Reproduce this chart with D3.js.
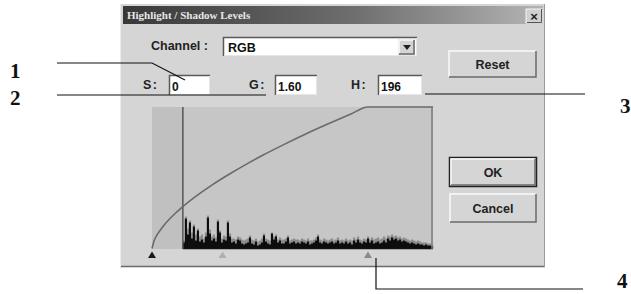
<!DOCTYPE html>
<html><head><meta charset="utf-8">
<script src="https://cdn.jsdelivr.net/npm/d3@7"></script>
<style>html,body{margin:0;padding:0;background:#fff;}svg{display:block;}</style>
</head><body>
<svg id="c" width="631" height="294"></svg>
<script>
// ---- data ----
const title = "Highlight / Shadow Levels";
const channel = "RGB";
const fieldLabels = ["S :", "G :", "H :"];
const fieldValues = ["0", "1.60", "196"];
const buttonLabels = ["Reset", "OK", "Cancel"];
const calloutLabels = ["1", "2", "3", "4"];
// tone curve: input level -> output (0..1)
const curveIn  = [0, 2, 5, 10, 15, 20, 28, 40, 55, 70, 85, 100, 120, 140, 160, 180, 196, 255];
const curveOut = [0, 0.057, 0.101, 0.156, 0.201, 0.240, 0.296, 0.370, 0.452, 0.525, 0.593, 0.657, 0.736, 0.811, 0.881, 0.948, 1, 1];
// histogram (starting at level 28), black counts
const histStart = 28;
const histBlack = [6,30,14,26,10,22,8,18,7,9,6,12,31,15,8,10,7,27,16,6,9,8,26,12,6,7,5,9,8,5,4,5,6,11,5,4,7,3,4,6,13,7,5,4,15,9,12,6,8,5,5,7,11,5,6,7,5,6,5,7,6,5,7,4,5,6,8,12,6,5,7,6,5,6,7,5,6,8,5,6,5,7,5,6,4,8,6,9,6,5,7,6,10,6,8,5,6,7,5,6,8,6,10,8,11,9,10,8,9,7,8,7,6,5,6,5,4,5,4,4,3,4,3,3,2];
// lighter (gray) counts behind the black ones
const histGray  = [8,32,20,28,16,24,14,20,12,14,10,16,33,19,12,14,11,29,18,10,13,12,28,15,10,10,9,12,11,9,8,9,10,13,9,8,10,7,8,10,15,10,9,8,16,12,14,9,11,9,9,10,13,8,9,10,9,9,8,10,9,8,10,8,8,9,11,14,9,8,10,9,8,9,10,8,9,11,8,9,8,10,8,9,8,11,9,12,9,8,10,9,12,9,11,9,10,11,9,10,12,10,13,12,14,12,13,11,12,10,11,10,9,8,9,8,7,8,7,6,6,6,5,5,4];
const markerLevels = [0, 64, 196];
const markerColors = ["#1a1a1a", "#b0b0b0", "#8a8a8a"];

// ---- drawing ----
const svg = d3.select("#c");
const sans = "'Liberation Sans', Arial, sans-serif";
const serif = "'Liberation Serif', 'Times New Roman', serif";

// dialog body
svg.append("rect").attr("x",120).attr("y",4).attr("width",425).attr("height",263).attr("fill","#d5d5d5");
svg.append("line").attr("x1",120).attr("x2",545).attr("y1",266.5).attr("y2",266.5).attr("stroke","#6a6a6a").attr("stroke-width",1.5);
svg.append("line").attr("x1",544.5).attr("x2",544.5).attr("y1",4).attr("y2",267).attr("stroke","#9a9a9a");
svg.append("line").attr("x1",120.5).attr("x2",120.5).attr("y1",4).attr("y2",267).attr("stroke","#ececec");

// title bar
const defs = svg.append("defs");
const g1 = defs.append("linearGradient").attr("id","tb");
g1.append("stop").attr("offset","0%").attr("stop-color","#383838");
g1.append("stop").attr("offset","55%").attr("stop-color","#6e6e6e");
g1.append("stop").attr("offset","100%").attr("stop-color","#b4b4b4");
svg.append("rect").attr("x",123).attr("y",6).attr("width",420).attr("height",18).attr("fill","url(#tb)");
svg.append("text").attr("x",127).attr("y",19).attr("font-family",serif).attr("font-size",11).attr("font-weight","bold")
  .attr("fill","#e8e8e8").text(title);
// close button
svg.append("rect").attr("x",526).attr("y",9).attr("width",16).attr("height",14).attr("fill","#d0d0d0").attr("stroke","#f4f4f4");
svg.append("path").attr("d","M527,22.5H541.5V9").attr("fill","none").attr("stroke","#555");
svg.append("text").attr("x",534).attr("y",20.5).attr("text-anchor","middle").attr("font-family",sans).attr("font-size",13).attr("font-weight","bold").attr("fill","#222").text("×");

// helper: sunken field
function sunken(x,y,w,h){
  svg.append("rect").attr("x",x).attr("y",y).attr("width",w).attr("height",h).attr("fill","#fff");
  svg.append("path").attr("d",`M${x+0.5},${y+h}V${y+0.5}H${x+w}`).attr("fill","none").attr("stroke","#5a5a5a").attr("stroke-width",1.5);
  svg.append("path").attr("d",`M${x+1},${y+h-0.5}H${x+w-0.5}V${y+1}`).attr("fill","none").attr("stroke","#e6e6e6");
}
function raised(x,y,w,h,label,def){
  svg.append("rect").attr("x",x).attr("y",y).attr("width",w).attr("height",h).attr("fill","#d5d5d5");
  if(def) svg.append("rect").attr("x",x-0.5).attr("y",y-0.5).attr("width",w+1).attr("height",h+1).attr("fill","none").attr("stroke","#222").attr("stroke-width",1.5);
  svg.append("path").attr("d",`M${x+1},${y+h-1}V${y+1}H${x+w-1}`).attr("fill","none").attr("stroke","#fafafa").attr("stroke-width",1.5);
  svg.append("path").attr("d",`M${x+1},${y+h-1}H${x+w-1}V${y+1}`).attr("fill","none").attr("stroke","#6a6a6a").attr("stroke-width",1.5);
  svg.append("text").attr("x",x+w/2).attr("y",y+h/2+4.5).attr("text-anchor","middle").attr("font-family",sans)
    .attr("font-size",12.5).attr("font-weight","bold").attr("fill","#222").text(label);
}

// channel row
svg.append("text").attr("x",151).attr("y",50).attr("font-family",sans).attr("font-size",12.5).attr("font-weight","bold").attr("fill","#222").text("Channel :");
sunken(223,37,194,19);
svg.append("text").attr("x",228).attr("y",51.5).attr("font-family",sans).attr("font-size",12.5).attr("font-weight","bold").attr("fill","#111").text(channel);
raised(398,39,17,16,"",false);
svg.append("path").attr("d","M403,45H411L407,50Z").attr("fill","#222");

// S/G/H fields
const labelX = [143, 249, 351];
const fieldX = [169, 275, 378];
const fieldW = [41, 42, 44];
fieldLabels.forEach((l,i)=>{
  svg.append("text").attr("x",labelX[i]).attr("y",89).attr("font-family",sans).attr("font-size",12.5).attr("font-weight","bold").attr("fill","#222").attr("letter-spacing",-1).text(l);
  sunken(fieldX[i],75,fieldW[i],20);
  svg.append("text").attr("x",fieldX[i]+3).attr("y",90.5).attr("font-family",sans).attr("font-size",12).attr("font-weight","bold").attr("fill","#111").text(fieldValues[i]);
});

// buttons
raised(448,50,89,28,buttonLabels[0],false);
raised(450,158,86,28,buttonLabels[1],true);
raised(449,193,88,30,buttonLabels[2],false);

// histogram plot
const x = d3.scaleLinear().domain([0,255]).range([152,433]);
const yC = d3.scaleLinear().domain([0,1]).range([248.5,107]);
const yH = d3.scaleLinear().domain([0,142]).range([248.5,107]);
svg.append("rect").attr("x",x(0)).attr("y",107).attr("width",x(255)-x(0)).attr("height",142).attr("fill","#c6c6c6");
svg.append("rect").attr("x",x(0)).attr("y",107).attr("width",x(histStart)-x(0)).attr("height",142).attr("fill","#c0c0c0");

const band = d3.scaleBand().domain(d3.range(histBlack.length)).range([x(histStart), x(255)]).paddingInner(0);
svg.append("g").selectAll("rect").data(histGray).join("rect")
  .attr("x",(d,i)=>band(i)).attr("width",band.bandwidth()+0.2)
  .attr("y",d=>yH(d)).attr("height",d=>yH(0)-yH(d)).attr("fill","#8c8c8c");
svg.append("g").selectAll("rect").data(histBlack).join("rect")
  .attr("x",(d,i)=>band(i)).attr("width",band.bandwidth()+0.1)
  .attr("y",d=>yH(d)).attr("height",d=>yH(0)-yH(d)).attr("fill","#0d0d0d");
svg.append("line").attr("x1",x(histStart)).attr("x2",x(255)).attr("y1",248.5).attr("y2",248.5).attr("stroke","#111").attr("stroke-width",1.5);

// vertical line at histogram start and right edge
svg.append("line").attr("x1",x(histStart)).attr("x2",x(histStart)).attr("y1",107).attr("y2",249).attr("stroke","#555").attr("stroke-width",1.5);
svg.append("line").attr("x1",x(255)-1).attr("x2",x(255)-1).attr("y1",107).attr("y2",249).attr("stroke","#7a7a7a").attr("stroke-width",1.5);

// curve
const pts = curveIn.map((v,i)=>[v,curveOut[i]]);
svg.append("path").datum(pts)
  .attr("d", d3.line().x(d=>x(d[0])).y(d=>yC(d[1])).curve(d3.curveMonotoneX))
  .attr("fill","none").attr("stroke","#6a6a6a").attr("stroke-width",1.6);

// markers
markerLevels.forEach((m,i)=>{
  const cx = x(m);
  svg.append("path").attr("d",`M${cx-4},258H${cx+4}L${cx},251.5Z`).attr("fill",markerColors[i]);
});

// callouts
svg.append("g").attr("fill","none").attr("stroke","#111").attr("stroke-width",1.2).selectAll("path")
  .data(["M57,63H152L185,80","M57,95H266","M425,94H585","M376,258V289H583"]).join("path").attr("d",d=>d);
const cPos = [[10,78],[10,105],[620,113],[617,288]];
calloutLabels.forEach((l,i)=>{
  svg.append("text").attr("x",cPos[i][0]).attr("y",cPos[i][1]).attr("font-family",serif).attr("font-size",21).attr("font-weight","bold").attr("fill","#111").text(l);
});
</script>
</body></html>
